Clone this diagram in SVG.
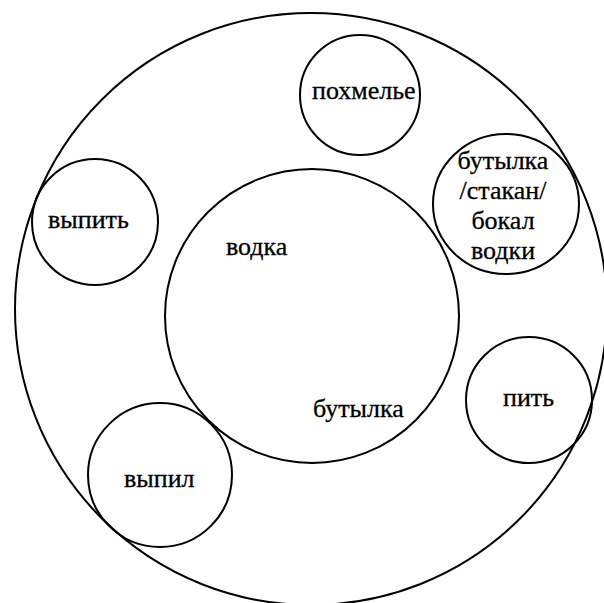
<svg xmlns="http://www.w3.org/2000/svg" width="604" height="603" viewBox="0 0 604 603">
<style>
.c{fill:none;stroke:#000;stroke-width:2}
.t{font-family:'Liberation Serif','Times New Roman',serif;font-size:26px;fill:#000;stroke:#000;stroke-width:0.3}
</style>
<rect width="604" height="603" fill="#fff"/>
<g id="outer"><circle class="c" cx="311" cy="309" r="296"/></g>
<g id="inner"><circle class="c" cx="312" cy="316" r="147"/>
<text class="t" x="226" y="255">водка</text>
<text class="t" x="313" y="417">бутылка</text></g>
<g id="pohmelye"><circle class="c" cx="360" cy="95" r="60"/><text class="t" x="312" y="99">похмелье</text></g>
<g id="butylka"><ellipse class="c" cx="506" cy="204" rx="73" ry="70"/>
<text class="t" x="503" y="169" text-anchor="middle">бутылка</text>
<text class="t" x="503" y="199" text-anchor="middle">/стакан/</text>
<text class="t" x="503" y="229" text-anchor="middle">бокал</text>
<text class="t" x="503" y="259" text-anchor="middle">водки</text></g>
<g id="vypit"><circle class="c" cx="95" cy="222" r="63"/><text class="t" x="48" y="228">выпить</text></g>
<g id="pit"><circle class="c" cx="529" cy="400" r="63"/><text class="t" x="503" y="406">пить</text></g>
<g id="vypil"><circle class="c" cx="160" cy="475" r="72"/><text class="t" x="124" y="487">выпил</text></g>
<g id="connectors"></g>
</svg>
